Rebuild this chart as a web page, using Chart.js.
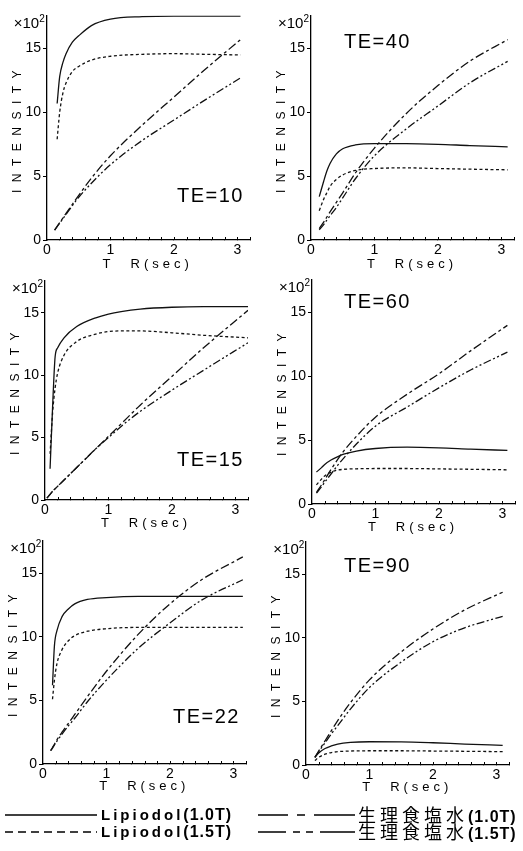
<!DOCTYPE html>
<html lang="ja">
<head>
<meta charset="UTF-8">
<title>TR - Intensity (TE)</title>
<script src="https://cdn.jsdelivr.net/npm/chart.js"></script>
<style>
  body { margin: 0; background: #fff; width: 523px; height: 851px; position: relative; overflow: hidden;
         font-family: "Liberation Sans", Arial, sans-serif; color: #000; }
  canvas { position: absolute; }
  .lbl { position: absolute; white-space: nowrap; line-height: 1; }
  .ylab { font-size: 12px; letter-spacing: 7.5px; transform: translate(-50%, -50%) rotate(-90deg); }
  .xlab { font-size: 13px; transform: translate(-50%, -50%); }
  .xlab b { font-weight: normal; margin-right: 20px; }
  .xlab span { letter-spacing: 4px; }
  .exp { font-size: 15px; transform: translateY(-50%); }
  .exp sup { font-size: 10px; vertical-align: 6px; }
  .te { font-size: 20px; letter-spacing: 1.5px; transform: translateY(-50%); }
  .leg { position: absolute; white-space: nowrap; font-weight: bold; transform: translateY(-50%); line-height: 1; }
  .leg .lp { font-size: 15px; letter-spacing: 3px; }
  .leg .jp { font-family: "Noto Sans CJK JP", sans-serif; font-weight: normal; font-size: 18px; letter-spacing: 4px; }
  .leg .par { font-size: 16px; letter-spacing: 1px; }
  svg { position: absolute; left: 0; top: 0; }
</style>
</head>
<body>
<svg width="523" height="851" id="legendLines"></svg>

<script>
// values in units of x10^2, TR in sec
const te10Tr    = [0.12, 0.16, 0.2, 0.25, 0.3, 0.4, 0.5, 0.7, 1.0, 1.5, 2.0, 2.5, 3.05];
const te10Lip10 = [null, 10.7, 12.8, 13.9, 14.6, 15.5, 16.0, 16.8, 17.3, 17.5, 17.55, 17.55, 17.55];
const te10Lip15 = [null, 7.9, 10.0, 11.5, 12.3, 13.2, 13.6, 14.1, 14.4, 14.55, 14.6, 14.55, 14.5];
const te10Sal10 = [0.78, 1.07, 1.36, 1.72, 2.08, 2.8, 3.5, 4.85, 6.6, 9.0, 11.2, 13.4, 15.7];
const te10Sal15 = [0.78, 1.05, 1.32, 1.67, 2.0, 2.7, 3.35, 4.45, 5.9, 7.8, 9.4, 11.0, 12.7];

const te40Tr    = [0.13, 0.2, 0.25, 0.3, 0.4, 0.5, 0.7, 1.0, 1.5, 2.0, 2.5, 3.1];
const te40Lip10 = [3.4, 4.6, 5.4, 6.0, 6.75, 7.15, 7.45, 7.55, 7.55, 7.5, 7.4, 7.3];
const te40Lip15 = [2.3, 3.2, 3.7, 4.2, 4.75, 5.1, 5.45, 5.6, 5.65, 5.6, 5.55, 5.5];
const te40Sal10 = [0.9, 1.4, 1.8, 2.2, 2.95, 3.7, 5.25, 7.2, 9.9, 12.1, 14.0, 15.7];
const te40Sal15 = [0.8, 1.2, 1.55, 1.9, 2.55, 3.3, 4.8, 6.6, 8.7, 10.5, 12.3, 14.0];

const te15Tr    = [0.03, 0.08, 0.12, 0.16, 0.2, 0.3, 0.5, 0.8, 1.0, 1.2, 1.5, 2.0, 2.5, 3.2];
const te15Lip10 = [null, 2.5, 7.5, 11.5, 12.2, 13.0, 13.9, 14.6, 14.9, 15.1, 15.3, 15.45, 15.5, 15.5];
const te15Lip15 = [null, 3.7, 7.0, 9.0, 10.2, 11.6, 12.7, 13.3, 13.5, 13.55, 13.55, 13.4, 13.2, 13.0];
const te15Sal10 = [0.15, 0.45, 0.7, 0.9, 1.1, 1.6, 2.6, 4.1, 5.1, 6.1, 7.6, 9.9, 12.2, 15.2];
const te15Sal15 = [0.15, 0.45, 0.7, 0.9, 1.1, 1.6, 2.6, 4.1, 5.0, 5.9, 7.1, 8.8, 10.4, 12.6];

const te60Tr    = [0.07, 0.15, 0.2, 0.3, 0.4, 0.5, 0.7, 1.0, 1.5, 2.0, 2.5, 3.08];
const te60Lip10 = [2.5, 2.85, 3.1, 3.45, 3.7, 3.9, 4.15, 4.35, 4.45, 4.4, 4.3, 4.2];
const te60Lip15 = [1.5, 1.95, 2.2, 2.5, 2.65, 2.72, 2.76, 2.78, 2.78, 2.75, 2.72, 2.68];
const te60Sal10 = [0.9, 1.5, 1.9, 2.7, 3.45, 4.15, 5.3, 6.8, 8.6, 10.2, 12.0, 14.0];
const te60Sal15 = [0.85, 1.35, 1.7, 2.35, 3.0, 3.6, 4.7, 6.1, 7.6, 9.1, 10.5, 11.9];

const te22Tr    = [0.12, 0.15, 0.18, 0.22, 0.3, 0.4, 0.5, 0.7, 1.0, 1.5, 2.0, 2.5, 3.15];
const te22Lip10 = [null, 6.2, 9.3, 10.5, 11.6, 12.2, 12.6, 12.95, 13.1, 13.2, 13.2, 13.2, 13.2];
const te22Lip15 = [null, 5.1, 6.6, 7.9, 9.0, 9.7, 10.1, 10.45, 10.65, 10.75, 10.75, 10.75, 10.75];
const te22Sal10 = [1.05, 1.3, 1.55, 1.9, 2.5, 3.2, 3.9, 5.3, 7.3, 10.2, 12.6, 14.5, 16.3];
const te22Sal15 = [1.05, 1.25, 1.5, 1.8, 2.35, 3.0, 3.6, 4.9, 6.6, 9.1, 11.1, 12.9, 14.5];

const te90Tr    = [0.14, 0.2, 0.3, 0.4, 0.5, 0.7, 1.0, 1.5, 2.0, 2.5, 3.1];
const te90Lip10 = [0.6, 0.95, 1.3, 1.5, 1.65, 1.78, 1.83, 1.82, 1.75, 1.65, 1.55];
const te90Lip15 = [0.35, 0.6, 0.85, 0.98, 1.05, 1.1, 1.12, 1.12, 1.1, 1.08, 1.05];
const te90Sal10 = [0.6, 1.1, 1.9, 2.7, 3.5, 4.9, 6.7, 8.9, 10.7, 12.2, 13.6];
const te90Sal15 = [0.6, 1.05, 1.75, 2.45, 3.1, 4.4, 6.1, 8.1, 9.7, 10.8, 11.7];

const yTicks = [0, 5, 10, 15];
const xTickLabels = [0, 1, 2, 3];
const seriesNames = ['Lipiodol(1.0T)', 'Lipiodol(1.5T)', '生理食塩水(1.0T)', '生理食塩水(1.5T)'];
const dashes = [[], [3, 2.5], [9, 3, 3, 3], [8, 2.5, 2, 2.5, 2, 2.5]];

const panels = [
  { te: '10', tr: te10Tr, lines: [te10Lip10, te10Lip15, te10Sal10, te10Sal15], x0: 46.7, y0: 240.7, sx: 63.4, sy: 12.8, teX: 177, teY: 195 },
  { te: '40', tr: te40Tr, lines: [te40Lip10, te40Lip15, te40Sal10, te40Sal15], x0: 311, y0: 240.7, sx: 63.3, sy: 12.8, teX: 344, teY: 41 },
  { te: '15', tr: te15Tr, lines: [te15Lip10, te15Lip15, te15Sal10, te15Sal15], x0: 45, y0: 500, sx: 63.5, sy: 12.5, teX: 177, teY: 459 },
  { te: '60', tr: te60Tr, lines: [te60Lip10, te60Lip15, te60Sal10, te60Sal15], x0: 312, y0: 504, sx: 63.3, sy: 12.8, teX: 344, teY: 301 },
  { te: '22', tr: te22Tr, lines: [te22Lip10, te22Lip15, te22Sal10, te22Sal15], x0: 43.3, y0: 763.3, sx: 63.3, sy: 12.7, teX: 173, teY: 716 },
  { te: '90', tr: te90Tr, lines: [te90Lip10, te90Lip15, te90Sal10, te90Sal15], x0: 306.3, y0: 764.3, sx: 63.3, sy: 12.7, teX: 344, teY: 565 }
];

const X_MAX = 3.2, Y_MAX = 17.6;
const AXIS_W = 45, AXIS_H = 22, PAD_T = 10, PAD_R = 8;

Chart.defaults.font.family = '"Liberation Sans", Arial, sans-serif';
Chart.defaults.color = '#000';

// small tick marks pointing into the plot on the TR axis
const innerTicks = {
  id: 'innerTicks',
  afterDraw(chart) {
    const { ctx, chartArea, scales } = chart;
    ctx.save();
    ctx.strokeStyle = '#000';
    ctx.lineWidth = 1;
    scales.x.ticks.forEach(t => {
      if (t.value <= 0.01) return;
      const px = Math.round(scales.x.getPixelForValue(t.value)) + 0.5;
      ctx.beginPath();
      ctx.moveTo(px, chartArea.bottom);
      ctx.lineTo(px, chartArea.bottom - 3);
      ctx.stroke();
    });
    ctx.restore();
  }
};

function addText(cls, html, left, top) {
  const d = document.createElement('div');
  d.className = 'lbl ' + cls;
  d.innerHTML = html;
  d.style.left = left + 'px';
  d.style.top = top + 'px';
  document.body.appendChild(d);
}

panels.forEach(p => {
  const w = X_MAX * p.sx, h = Y_MAX * p.sy;
  const top = p.y0 - h;
  const cv = document.createElement('canvas');
  cv.width = Math.round(AXIS_W + w + PAD_R);
  cv.height = Math.round(PAD_T + h + AXIS_H);
  cv.style.left = (p.x0 - AXIS_W) + 'px';
  cv.style.top = (top - PAD_T) + 'px';
  document.body.appendChild(cv);

  new Chart(cv, {
    type: 'line',
    data: {
      datasets: p.lines.map((vals, i) => ({
        label: seriesNames[i],
        data: p.tr.map((t, k) => ({ x: t, y: vals[k] })).filter(d => d.y !== null),
        borderColor: '#111',
        borderWidth: 1.3,
        borderDash: dashes[i],
        pointRadius: 0,
        fill: false,
        cubicInterpolationMode: 'monotone'
      }))
    },
    options: {
      responsive: false,
      animation: false,
      devicePixelRatio: 1,
      layout: { padding: { top: PAD_T, right: PAD_R, left: 0, bottom: 0 } },
      plugins: { legend: { display: false }, tooltip: { enabled: false } },
      scales: {
        x: {
          type: 'linear', min: 0, max: X_MAX,
          afterFit: s => { s.height = AXIS_H; },
          border: { display: true, color: '#000', width: 1.3 },
          grid: { drawOnChartArea: false, tickLength: 0, color: '#000' },
          ticks: {
            stepSize: 0.2, includeBounds: false, maxRotation: 0, autoSkip: false, padding: 2,
            font: { size: 14 },
            callback: v => {
              const r = Math.round(v);
              return (Math.abs(v - r) < 1e-6 && xTickLabels.includes(r)) ? String(r) : '';
            }
          }
        },
        y: {
          min: 0, max: Y_MAX,
          afterFit: s => { s.width = AXIS_W; },
          afterBuildTicks: s => { s.ticks = yTicks.map(v => ({ value: v })); },
          border: { display: true, color: '#000', width: 1.3 },
          grid: { drawOnChartArea: false, tickLength: 4, color: '#000' },
          ticks: { includeBounds: false, padding: 2, font: { size: 14 } }
        }
      }
    },
    plugins: [innerTicks]
  });

  addText('ylab', 'INTENSITY', p.x0 - 30, top + h / 2);
  addText('xlab', '<b>T</b><span>R(sec)</span>', p.x0 + 101, p.y0 + 22);
  addText('exp', '×10<sup>2</sup>', p.x0 - 33, top + 7);
  addText('te', 'TE=' + p.te, p.teX, p.teY);
});

// legend
const legendRows = [
  { y: 815, x1: 5, x2: 97, tx: 101, dash: '', name: '<span class="lp">Lipiodol</span><span class="par">(1.0T)</span>' },
  { y: 832, x1: 5, x2: 97, tx: 101, dash: '8 5', name: '<span class="lp">Lipiodol</span><span class="par">(1.5T)</span>' },
  { y: 815, x1: 258, x2: 355, tx: 358, dash: '30 9 8 9 50', name: '<span class="jp">生理食塩水</span><span class="par">(1.0T)</span>' },
  { y: 832, x1: 258, x2: 355, tx: 358, dash: '28 7 7 6 7 7 40', name: '<span class="jp">生理食塩水</span><span class="par">(1.5T)</span>' }
];
const svg = document.getElementById('legendLines');
legendRows.forEach(r => {
  const ln = document.createElementNS('http://www.w3.org/2000/svg', 'line');
  ln.setAttribute('x1', r.x1); ln.setAttribute('x2', r.x2);
  ln.setAttribute('y1', r.y); ln.setAttribute('y2', r.y);
  ln.setAttribute('stroke', '#000'); ln.setAttribute('stroke-width', '1.5');
  if (r.dash) ln.setAttribute('stroke-dasharray', r.dash);
  svg.appendChild(ln);
  const d = document.createElement('div');
  d.className = 'leg';
  d.innerHTML = r.name;
  d.style.left = r.tx + 'px';
  d.style.top = r.y + 'px';
  document.body.appendChild(d);
});
</script>
</body>
</html>
